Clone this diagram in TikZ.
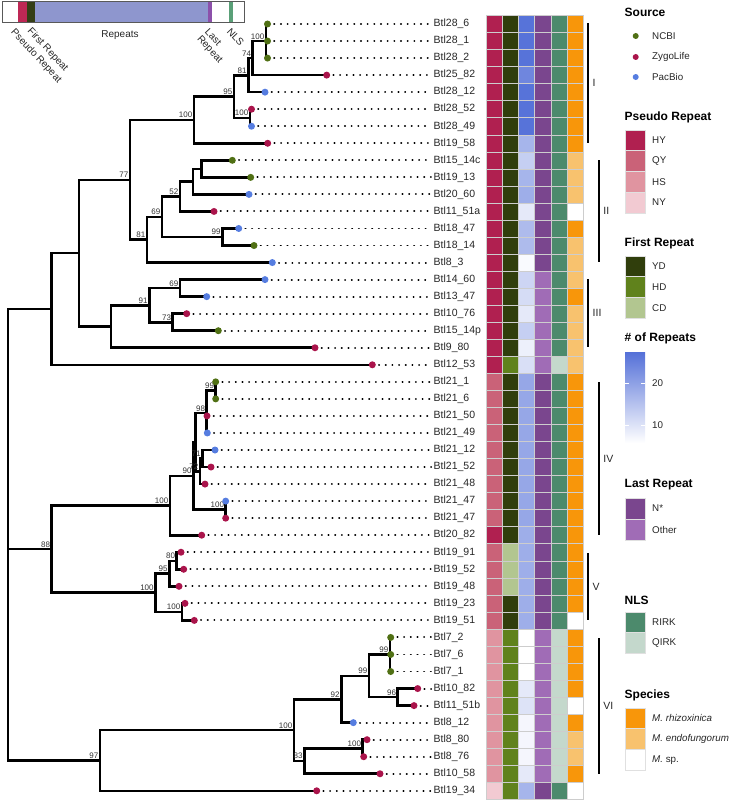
\documentclass[tikz,border=0pt]{standalone}
\usepackage{fontspec}
\setmainfont{Liberation Sans}
\definecolor{ncbi}{RGB}{80,112,20}
\definecolor{zygo}{RGB}{170,20,75}
\definecolor{pacb}{RGB}{86,125,224}
\definecolor{HY}{RGB}{176,32,80}
\definecolor{QY}{RGB}{202,98,120}
\definecolor{HS}{RGB}{224,148,160}
\definecolor{NY}{RGB}{242,202,210}
\definecolor{YD}{RGB}{48,62,12}
\definecolor{HD}{RGB}{96,130,28}
\definecolor{CD}{RGB}{178,198,144}
\definecolor{rep}{RGB}{84,112,216}
\definecolor{NS}{RGB}{122,70,142}
\definecolor{OT}{RGB}{160,108,182}
\definecolor{RI}{RGB}{76,138,108}
\definecolor{QI}{RGB}{196,216,204}
\definecolor{rh}{RGB}{248,150,10}
\definecolor{en}{RGB}{248,194,110}
\definecolor{cellb}{RGB}{205,205,205}
\definecolor{schrep}{RGB}{142,150,206}
\definecolor{schps}{RGB}{190,40,85}
\definecolor{schfi}{RGB}{52,62,22}
\definecolor{schla}{RGB}{140,80,170}
\definecolor{schnl}{RGB}{90,160,120}
\pgfdeclarelayer{fg}
\pgfsetlayers{main,fg}
\newcommand\hmcell[3]{\filldraw[fill=#3, draw=cellb, line width=0.5pt] ({486+16.2*#1},{15.5+17.04*#2}) rectangle ++(16.2,17.04);}
\begin{document}
\begin{tikzpicture}[x=1pt,y=-1pt,
  br/.style={line width=2.6pt, line cap=rect, line join=miter},
  dotline/.style={line width=1.9pt, line cap=round, dash pattern=on 0.2pt off 6.47pt},
  tipdot/.style={circle, inner sep=0pt, minimum size=7pt, fill=#1},
  lgdot/.style={circle, inner sep=0pt, minimum size=6pt, fill=#1},
  nl/.style={font=\fontsize{8}{8}\selectfont, text=black!80, anchor=south east, inner sep=0pt},
  tl/.style={font=\fontsize{10.5}{11}\selectfont, text=black!85, anchor=west, inner sep=0pt},
  cl/.style={font=\fontsize{10.5}{11}\selectfont, text=black!85, anchor=west, inner sep=0pt},
  cbar/.style={line width=1.7pt},
  lgt/.style={font=\bfseries\fontsize{12}{13}\selectfont, anchor=west, inner sep=0pt},
  lgl/.style={font=\fontsize{9.8}{11}\selectfont, text=black!85, anchor=west, inner sep=0pt},
  lgk/.style={draw=white!88!black, line width=0.5pt},
  sch/.style={font=\fontsize{10}{12}\selectfont, text=black!85, inner sep=0pt}]
\useasboundingbox (0,0) rectangle (735,800);

% ---------- schematic ----------
\fill[white] (2,2) rectangle (244,23);
\fill[schps] (18,2) rectangle (26.7,23);
\fill[schfi] (26.7,2) rectangle (35,23);
\fill[schrep] (35,2) rectangle (208,23);
\fill[schla] (208,2) rectangle (212,23);
\fill[schnl] (228.7,2) rectangle (232.7,23);
\draw[black!65, line width=1pt] (2,2) rectangle (244,23);
\node[sch] (srep) at (120,35) {Repeats};
\node[sch, rotate=-47, anchor=north west] (sps) at (16,27.5) {Pseudo Repeat};
\node[sch, rotate=-47, anchor=north west] (sfi) at (32.5,26.5) {First Repeat};
\node[sch, rotate=-47, anchor=north west, align=left] (sla) at (209.5,27.5) {Last\\[-1.5pt]Repeat};
\node[sch, rotate=-47, anchor=north west] (snl) at (231.5,27.5) {NLS};

% ---------- tips ----------
\foreach \i/\x/\s/\n in {0/267.5/ncbi/Btl28\_6,1/267.5/ncbi/Btl28\_1,2/267.5/ncbi/Btl28\_2,3/326.7/zygo/Btl25\_82,4/265/pacb/Btl28\_12,5/251.5/zygo/Btl28\_52,6/251.5/pacb/Btl28\_49,7/267.7/zygo/Btl19\_58,8/232.3/ncbi/Btl15\_14c,9/250.7/ncbi/Btl19\_13,10/249/pacb/Btl20\_60,11/214/zygo/Btl11\_51a,12/238.7/pacb/Btl18\_47,13/254/ncbi/Btl18\_14,14/272.3/pacb/Btl8\_3,15/265/pacb/Btl14\_60,16/206.7/pacb/Btl13\_47,17/186.7/zygo/Btl10\_76,18/218.3/ncbi/Btl15\_14p,19/315/zygo/Btl9\_80,20/372.3/zygo/Btl12\_53,21/215.7/ncbi/Btl21\_1,22/215.7/ncbi/Btl21\_6,23/207/zygo/Btl21\_50,24/207.3/pacb/Btl21\_49,25/215/pacb/Btl21\_12,26/211/zygo/Btl21\_52,27/205/zygo/Btl21\_48,28/225.7/pacb/Btl21\_47,29/225.7/zygo/Btl21\_47,30/201.7/zygo/Btl20\_82,31/181/zygo/Btl19\_91,32/183.7/zygo/Btl19\_52,33/179/zygo/Btl19\_48,34/185/zygo/Btl19\_23,35/194.3/zygo/Btl19\_51,36/390.7/ncbi/Btl7\_2,37/390.7/ncbi/Btl7\_6,38/390.7/ncbi/Btl7\_1,39/417.7/zygo/Btl10\_82,40/414/zygo/Btl11\_51b,41/353.3/pacb/Btl8\_12,42/367/zygo/Btl8\_80,43/363.7/zygo/Btl8\_76,44/380/zygo/Btl10\_58,45/316.7/zygo/Btl19\_34}{
  \coordinate (t\i) at (\x,{24+17.04*\i});
  \begin{pgfonlayer}{fg}
    \node[tl] (l\i) at (433.5,{24+17.04*\i}) {\n};
    \draw[dotline] (t\i) -- (431.2,{24+17.04*\i});
    \node[tipdot=\s] (d\i) at (t\i) {};
  \end{pgfonlayer}
}

% ---------- internal nodes ----------
\coordinate (nA) at (266,41.1);
\coordinate (nB) at (252.7,58.1);
\coordinate (nC) at (248.3,75.2);
\coordinate (nD) at (250,117.8);
\coordinate (nE) at (234,96.5);
\coordinate (nF) at (194,119.9);
\coordinate (nG) at (201.7,168.9);
\coordinate (nH) at (193,181.6);
\coordinate (nI) at (180,196.5);
\coordinate (nK) at (222.3,237);
\coordinate (nJ) at (162,216.8);
\coordinate (nL) at (147,239.7);
\coordinate (nM) at (130,179.8);
\coordinate (nR) at (180,288.1);
\coordinate (nS) at (172.7,322.2);
\coordinate (nQ) at (149.3,305.2);
\coordinate (nP) at (111,326.5);
\coordinate (nN) at (79,253.1);
\coordinate (nO) at (51.7,309.1);
\coordinate (n99a) at (215.7,390.35);
\coordinate (n98) at (206.7,413.1);
\coordinate (nZ1) at (202.3,458.5);
\coordinate (nZ2) at (200,471.3);
\coordinate (nW) at (195.7,442.2);
\coordinate (nX) at (225.7,509.65);
\coordinate (nV) at (193.3,475.9);
\coordinate (nU) at (170,505.6);
\coordinate (nAD) at (176.7,560.8);
\coordinate (nAB) at (169.3,573.5);
\coordinate (nAC) at (182,611.9);
\coordinate (nAA) at (155.3,592.7);
\coordinate (nT) at (51.7,549.1);
\coordinate (nAJ) at (390,654.5);
\coordinate (nAK) at (397.7,697.1);
\coordinate (nAI) at (369,675.8);
\coordinate (nAG) at (341.3,699.2);
\coordinate (nAL) at (362.7,748.2);
\coordinate (nAH) at (304.3,761);
\coordinate (nAF) at (294,730.1);
\coordinate (nAE) at (100,760.5);
\coordinate (root) at (8,540);

\foreach \p/\c in {nA/t0,nA/t1,nA/t2,nB/nA,nB/t3,nC/nB,nC/t4,nD/t5,nD/t6,nE/nC,nE/nD,nF/nE,nF/t7,
  nG/t8,nG/t9,nH/nG,nH/t10,nI/nH,nI/t11,nK/t12,nK/t13,nJ/nI,nJ/nK,nL/nJ,nL/t14,nM/nF,nM/nL,
  nR/t15,nR/t16,nS/t17,nS/t18,nQ/nR,nQ/nS,nP/nQ,nP/t19,nN/nM,nN/nP,nO/nN,nO/t20,
  n99a/t21,n99a/t22,n98/n99a,n98/t23,n98/t24,nZ1/t25,nZ1/t26,nZ2/nZ1,nZ2/t27,nW/n98,nW/nZ2,
  nX/t28,nX/t29,nV/nW,nV/nX,nU/nV,nU/t30,nAD/t31,nAD/t32,nAB/nAD,nAB/t33,nAC/t34,nAC/t35,
  nAA/nAB,nAA/nAC,nT/nU,nT/nAA,nAJ/t36,nAJ/t37,nAJ/t38,nAK/t39,nAK/t40,nAI/nAJ,nAI/nAK,
  nAG/nAI,nAG/t41,nAL/t42,nAL/t43,nAH/nAL,nAH/t44,nAF/nAG,nAF/nAH,nAE/nAF,nAE/t45,
  root/nO,root/nT,root/nAE}{
  \draw[br] (\p) |- (\c);
}

% ---------- node support labels ----------
\foreach \p/\v in {nA/100,nB/74,nC/81,nD/100,nE/95,nF/100,nI/52,nK/99,nJ/69,nL/81,nM/77,
  nR/69,nS/73,nQ/91,n99a/99,n98/98,nZ1/71,nZ2/72,nX/100,nV/90,nU/100,nAD/80,nAB/95,nAC/100,
  nAA/100,nT/88,nAJ/99,nAK/96,nAI/99,nAG/92,nAL/100,nAH/83,nAF/100,nAE/97}{
  \node[nl] (s\p) at ([xshift=-1.5pt,yshift=1.8pt]\p) {\v};
}

% ---------- heatmap ----------
\foreach \i/\a/\b/\v/\c/\d/\e in {0/HY/YD/27/NS/RI/rh,1/HY/YD/27/NS/RI/rh,2/HY/YD/27/NS/RI/rh,3/HY/YD/24/NS/RI/rh,4/HY/YD/27/NS/RI/rh,5/HY/YD/27/NS/RI/rh,6/HY/YD/27/NS/RI/rh,7/HY/YD/17/NS/RI/rh,8/HY/YD/13/NS/RI/en,9/HY/YD/17/NS/RI/en,10/HY/YD/18/NS/RI/en,11/HY/YD/9/NS/RI/white,12/HY/YD/16/NS/RI/rh,13/HY/YD/16/NS/RI/en,14/HY/YD/6.5/NS/RI/en,15/HY/YD/12/OT/RI/en,16/HY/YD/11/OT/RI/rh,17/HY/YD/9/OT/RI/en,18/HY/YD/13/OT/RI/en,19/HY/YD/8/OT/RI/en,20/HY/HD/10.5/OT/QI/en,21/QY/YD/19/NS/RI/rh,22/QY/YD/19/NS/RI/rh,23/QY/YD/19/NS/RI/rh,24/QY/YD/19/NS/RI/rh,25/QY/YD/19/NS/RI/rh,26/QY/YD/19/NS/RI/rh,27/QY/YD/19/NS/RI/rh,28/QY/YD/19/NS/RI/rh,29/QY/YD/19/NS/RI/rh,30/HY/YD/18/NS/RI/rh,31/QY/CD/18/NS/RI/rh,32/QY/CD/18/NS/RI/rh,33/QY/CD/18/NS/RI/rh,34/QY/YD/18/NS/RI/rh,35/QY/YD/18/NS/RI/white,36/HS/HD/5.7/OT/QI/rh,37/HS/HD/5.7/OT/QI/rh,38/HS/HD/5.7/OT/QI/rh,39/HS/HD/9/OT/QI/rh,40/HS/HD/10/OT/QI/white,41/HS/HD/7/OT/QI/rh,42/HS/HD/7/OT/QI/en,43/HS/HD/7/OT/QI/en,44/HS/HD/9/OT/QI/rh,45/NY/HD/17/NS/RI/white}{
  \pgfmathsetmacro\pc{max(0,min(100,(\v-5.7)/21.7*100))}
  \hmcell{0}{\i}{\a}
  \hmcell{1}{\i}{\b}
  \hmcell{2}{\i}{rep!\pc!white}
  \hmcell{3}{\i}{\c}
  \hmcell{4}{\i}{\d}
  \hmcell{5}{\i}{\e}
}

% ---------- clade bars ----------
\foreach \k/\x/\ya/\yb/\t in {I/588/23.3/142.7/I,II/598.7/160/262/II,III/588/279/347/III,IV/598.7/382/535/IV,V/588/553/620/V,VI/598.7/638/774/VI}{
  \draw[cbar] (\x,\ya) -- (\x,\yb);
  \node[cl] (c\k) at ({\x+4.5},{(\ya+\yb)/2}) {\t};
}

% ---------- legend ----------
\node[lgt] (hsrc) at (624.5,12) {Source};
\foreach \y/\c/\t in {36/ncbi/NCBI,57/zygo/ZygoLife,77/pacb/PacBio}{
  \node[lgdot=\c] (k\t) at (635.7,\y) {};
  \node[lgl] (g\t) at (652,\y) {\t};
}
\node[lgt] (hps) at (624.5,117) {Pseudo Repeat};
\foreach \y/\c in {130/HY,150.7/QY,171.4/HS,192.1/NY}{
  \fill[\c, lgk] (625,\y) rectangle (645,{\y+20.7});
  \node[lgl] (g\c) at (652,{\y+10.35}) {\c};
}
\node[lgt] (hfr) at (624.5,243) {First Repeat};
\foreach \y/\c in {256/YD,276.7/HD,297.4/CD}{
  \fill[\c, lgk] (625,\y) rectangle (645,{\y+20.7});
  \node[lgl] (g\c) at (652,{\y+10.35}) {\c};
}
\node[lgt] (hnr) at (624.5,338) {\# of Repeats};
\shade[top color=rep, bottom color=white] (625,352) rectangle (645,443);
\foreach \y/\t in {383/20,425/10}{
  \draw[white, line width=0.6pt] (625,\y) -- (629,\y) (641,\y) -- (645,\y);
  \node[lgl] (gr\t) at (652,\y) {\t};
}
\node[lgt] (hlr) at (624.5,485) {Last Repeat};
\fill[NS, lgk] (625,498) rectangle (645,519);
\node[lgl] (gNS) at (652,508.5) {N*};
\fill[OT, lgk] (625,519) rectangle (645,540);
\node[lgl] (gOT) at (652,529.5) {Other};
\node[lgt] (hnls) at (624.5,600) {NLS};
\fill[RI, lgk] (625,612) rectangle (645,632.7);
\node[lgl] (gRI) at (652,622.3) {RIRK};
\fill[QI, lgk] (625,632.7) rectangle (645,653.4);
\node[lgl] (gQI) at (652,643) {QIRK};
\node[lgt] (hsp) at (624.5,695) {Species};
\fill[rh, lgk] (625,708) rectangle (645,728.7);
\node[lgl] (grh) at (652,718.3) {\itshape M. rhizoxinica};
\fill[en, lgk] (625,728.7) rectangle (645,749.4);
\node[lgl] (gen) at (652,739) {\itshape M. endofungorum};
\fill[white, lgk] (625,749.4) rectangle (645,770.1);
\node[lgl] (gsp) at (652,759.8) {\textit{M.} sp.};
\end{tikzpicture}
\end{document}
